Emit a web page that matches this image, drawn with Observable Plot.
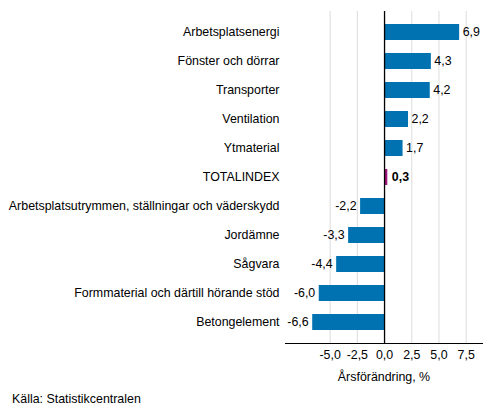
<!DOCTYPE html>
<html>
<head>
<meta charset="utf-8">
<script src="https://cdn.jsdelivr.net/npm/d3@7"></script>
<script src="https://cdn.jsdelivr.net/npm/@observablehq/plot@0.6"></script>
<style>
  body { margin: 0; background: #fff; font-family: "Liberation Sans", Arial, sans-serif; }
  #caption { font-size: 12.4px; color: #000; margin: 4px 0 0 12px; }
</style>
</head>
<body>
<div id="chart"></div>
<div id="caption">Källa: Statistikcentralen</div>
<script>
// kategorier och årsförändring (%)
const categories = [
  "Arbetsplatsenergi",
  "Fönster och dörrar",
  "Transporter",
  "Ventilation",
  "Ytmaterial",
  "TOTALINDEX",
  "Arbetsplatsutrymmen, ställningar och väderskydd",
  "Jordämne",
  "Sågvara",
  "Formmaterial och därtill hörande stöd",
  "Betongelement"
]
const values = [6.9, 4.3, 4.2, 2.2, 1.7, 0.3, -2.2, -3.3, -4.4, -6.0, -6.6]
const xTicks = [-5, -2.5, 0, 2.5, 5, 7.5]
const total = "TOTALINDEX"

const data = categories.map((c, i) => ({cat: c, value: values[i]}))
const fmt = d => d.toFixed(1).replace(".", ",")

const blue = "#0072b2"
const purple = "#a0127c"

const others = data.filter(d => d.cat !== total)

let chart = Plot.plot({
  width: 493,
  height: 388,
  marginTop: 11,
  marginBottom: 45,
  marginLeft: 285,
  marginRight: 11,
  style: {fontFamily: "Liberation Sans, Arial, sans-serif", fontSize: "12.4px", color: "#000"},
  x: {domain: [-9.1, 9.0]},
  y: {domain: categories, paddingInner: 0.45, paddingOuter: 0.41},
  marks: [
    Plot.gridX(xTicks.filter(d => d !== 0), {stroke: "#dcdcdc", strokeOpacity: 1}),
    Plot.barX(others, {x: "value", y: "cat", fill: blue}),
    Plot.barX(data.filter(d => d.cat === total), {x: "value", y: "cat", fill: purple}),
    Plot.ruleX([0], {stroke: "#000", strokeWidth: 1.3}),
    // värden bredvid staplarna
    Plot.text(others.filter(d => d.value >= 0), {
      x: "value", y: "cat", text: d => fmt(d.value),
      textAnchor: "start", dx: 3, fill: "#000"
    }),
    Plot.text(others.filter(d => d.value < 0), {
      x: "value", y: "cat", text: d => fmt(d.value),
      textAnchor: "end", dx: -4, fill: "#000"
    }),
    Plot.text(data.filter(d => d.cat === total), {
      x: "value", y: "cat", text: d => fmt(d.value),
      textAnchor: "start", dx: 4, fontWeight: "bold", fill: "#000"
    }),
    Plot.axisY({tickSize: 0, tickPadding: 6, label: null}),
    Plot.axisX({
      ticks: xTicks, tickSize: 0, tickPadding: 7, tickFormat: fmt,
      label: "Årsförändring, %", labelAnchor: "center", labelOffset: 37, labelArrow: "none"
    }),
    Plot.frame({anchor: "bottom", stroke: "#000"})
  ]
})
d3.select("#chart").append(() => chart)
</script>
</body>
</html>
